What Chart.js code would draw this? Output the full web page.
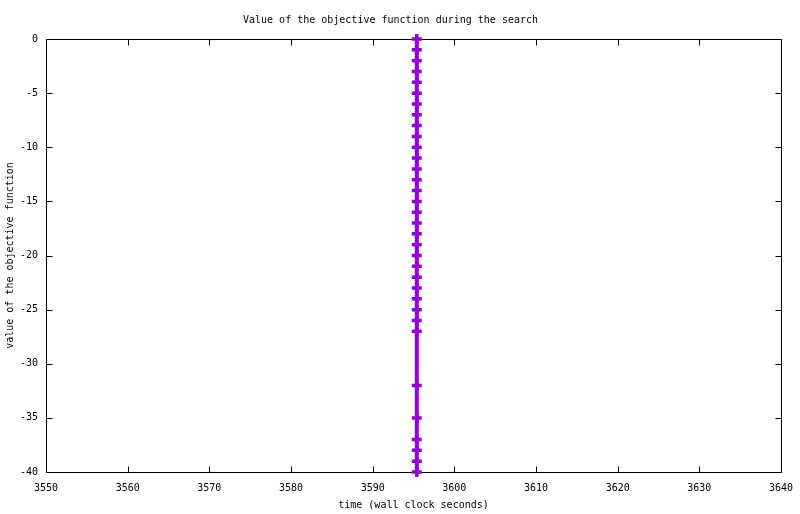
<!DOCTYPE html>
<html>
<head>
<meta charset="utf-8">
<script src="https://cdn.jsdelivr.net/npm/chart.js@4.4.0/dist/chart.umd.min.js"></script>
<style>
html,body{margin:0;padding:0;background:#fff;}
canvas{display:block;}
</style>
</head>
<body>
<canvas id="c" width="800" height="514"></canvas>
<script>
const timeValues = [3595.4,3595.4,3595.4,3595.4,3595.4,3595.4,3595.4,3595.4,3595.4,3595.4,
                    3595.4,3595.4,3595.4,3595.4,3595.4,3595.4,3595.4,3595.4,3595.4,3595.4,
                    3595.4,3595.4,3595.4,3595.4,3595.4,3595.4,3595.4,3595.4,3595.4,3595.4,
                    3595.4,3595.4,3595.4,3595.4];
const objectiveValues = [0,-1,-2,-3,-4,-5,-6,-7,-8,-9,
                         -10,-11,-12,-13,-14,-15,-16,-17,-18,-19,
                         -20,-21,-22,-23,-24,-25,-26,-27,-32,-35,
                         -37,-38,-39,-40];
const xRange = [3550, 3640];
const yRange = [-40, 0];
const xStep = 10;
const yStep = 5;
const titleText = 'Value of the objective function during the search';
const xTitle = 'time (wall clock seconds)';
const yTitle = 'value of the objective function';

const FONT = {family: "'DejaVu Sans Mono', 'Liberation Mono', monospace", size: 10, weight: 'normal'};

const points = timeValues.map((t, i) => ({x: t, y: objectiveValues[i]}));

const framePlugin = {
  id: 'gnuplotFrame',
  beforeDatasetsDraw(chart) {
    const {ctx, chartArea: a, scales} = chart;
    const L = a.left + 0.5, R = a.right + 0.5, T = a.top + 0.5, B = a.bottom + 0.5;
    const tl = 6;
    ctx.save();
    ctx.strokeStyle = '#000';
    ctx.lineWidth = 1;
    ctx.beginPath();
    ctx.rect(L, T, R - L, B - T);
    scales.x.ticks.forEach(tk => {
      const px = Math.round(scales.x.getPixelForValue(tk.value)) + 0.5;
      ctx.moveTo(px, B); ctx.lineTo(px, B - tl);
      ctx.moveTo(px, T); ctx.lineTo(px, T + tl);
    });
    scales.y.ticks.forEach(tk => {
      const py = Math.round(scales.y.getPixelForValue(tk.value)) + 0.5;
      ctx.moveTo(L, py); ctx.lineTo(L + tl, py);
      ctx.moveTo(R, py); ctx.lineTo(R - tl, py);
    });
    ctx.stroke();
    ctx.restore();
  }
};

new Chart(document.getElementById('c'), {
  type: 'scatter',
  data: {
    datasets: [{
      data: points,
      showLine: true,
      borderColor: '#9400D3',
      backgroundColor: '#9400D3',
      borderWidth: 4,
      pointStyle: 'cross',
      pointRadius: 5,
      pointBorderWidth: 3.5,
      pointBorderColor: '#9400D3',
      clip: false
    }]
  },
  options: {
    responsive: false,
    animation: false,
    devicePixelRatio: 1,
    layout: {padding: {left: 0, right: 19, top: 0, bottom: 0}},
    plugins: {
      legend: {display: false},
      tooltip: {enabled: false},
      title: {
        display: true,
        text: titleText,
        color: '#000',
        font: FONT,
        padding: {top: 14, bottom: 13}
      }
    },
    scales: {
      x: {
        type: 'linear',
        min: xRange[0], max: xRange[1],
        grid: {display: false, drawTicks: false},
        border: {display: false},
        ticks: {stepSize: xStep, color: '#000', font: FONT, padding: 10, maxRotation: 0,
                callback: v => String(v)},
        title: {display: true, text: xTitle, color: '#000', font: FONT, padding: {top: 0, bottom: 3}},
        afterFit(s) { s.height = 42; s.paddingLeft = 0; s.paddingRight = 0; }
      },
      y: {
        type: 'linear',
        min: yRange[0], max: yRange[1],
        grid: {display: false, drawTicks: false},
        border: {display: false},
        ticks: {stepSize: yStep, color: '#000', font: FONT, padding: 8,
                callback: v => String(v)},
        title: {display: true, text: yTitle, color: '#000', font: FONT, padding: {top: 4, bottom: 0}},
        afterFit(s) { s.width = 46; s.paddingTop = 0; s.paddingBottom = 0; }
      }
    }
  },
  plugins: [framePlugin]
});
</script>
</body>
</html>
